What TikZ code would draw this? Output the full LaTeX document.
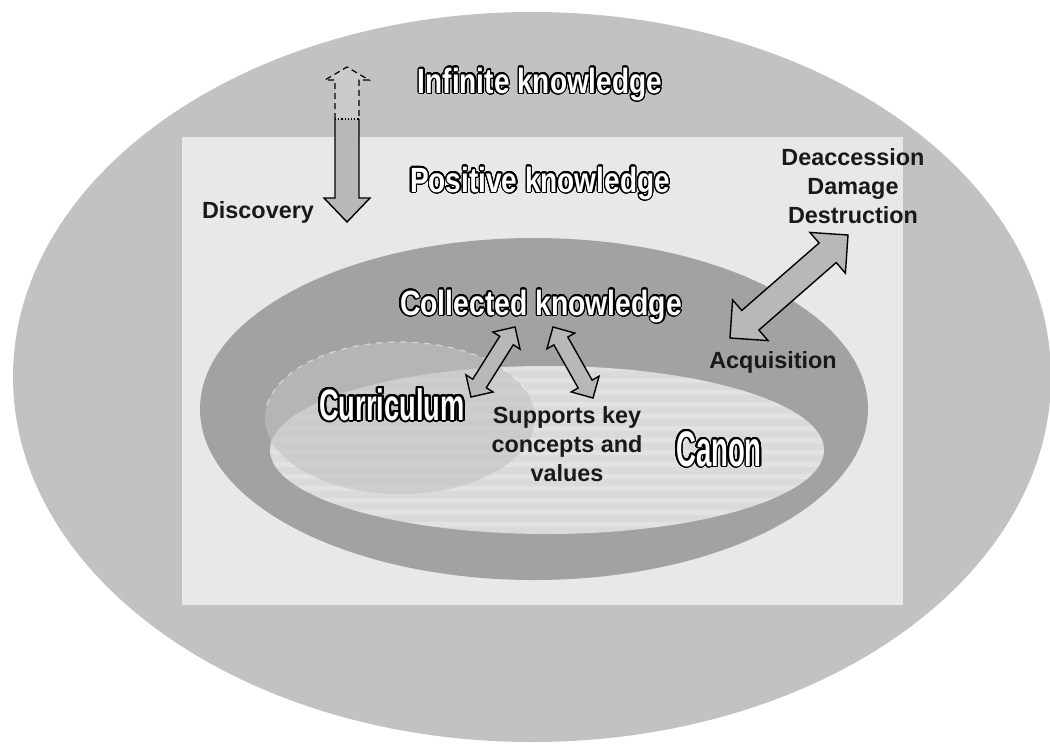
\documentclass[tikz,border=0pt]{standalone}
\usepackage{fontspec}
\setmainfont{Liberation Sans}
\usepackage{contour}
\contournumber{32}
\usetikzlibrary{calc}
\definecolor{outerc}{HTML}{C2C2C2}
\definecolor{rectc}{HTML}{E8E8E8}
\definecolor{midc}{HTML}{A2A2A2}
\definecolor{canonc}{HTML}{DADADA}
\definecolor{arrowc}{HTML}{B8B8B8}
\definecolor{dotc}{HTML}{CBCBCB}
% size, horizontal stretch, contour length, text
\newcommand{\hollowtext}[4]{{\fontsize{#1}{#1}\selectfont\bfseries\contourlength{#3}\textcolor{white}{\contour{black}{\scalebox{#2}[1]{#4}}}}}
% tips #1 #2, shaft half #3, head half #4, head length #5
\newcommand{\dblarrow}[5]{%
  \coordinate (ha) at ($(#1)!#5!(#2)$);
  \coordinate (hb) at ($(#2)!#5!(#1)$);
  \filldraw[blockarrow] (#1) -- ($(ha)!#4!90:(#2)$) -- ($(ha)!#3!90:(#2)$)
    -- ($(hb)!#3!-90:(#1)$) -- ($(hb)!#4!-90:(#1)$) -- (#2)
    -- ($(hb)!#4!90:(#1)$) -- ($(hb)!#3!90:(#1)$)
    -- ($(ha)!#3!-90:(#2)$) -- ($(ha)!#4!-90:(#2)$) -- cycle;}
\tikzset{
  blockarrow/.style={fill=arrowc, draw=black, line width=0.7pt, line join=miter},
  lbl/.style={font=\fontsize{11.7pt}{14.5pt}\selectfont\bfseries, align=center, inner sep=0pt, text=black!90},
  hol/.style={inner sep=0pt, anchor=base}
}
\begin{document}
\begin{tikzpicture}[x=0.5pt,y=-0.5pt]
\useasboundingbox (0,0) rectangle (1050,745);
\fill[white] (0,0) rectangle (1050,745);
% regions
\fill[outerc] (532,377) ellipse [x radius=519, y radius=365];
\fill[rectc] (182,137) rectangle (903,605);
\fill[midc] (534,409) ellipse [x radius=334, y radius=171];
\fill[canonc] (547,450) ellipse [x radius=277, y radius=84];
\begin{scope}
  \clip (547,450) ellipse [x radius=277, y radius=84];
  \foreach \yy in {366,378,...,540} \fill[white,opacity=0.22] (260,\yy) rectangle (830,\yy+5);
\end{scope}
% curriculum region
\fill[outerc, opacity=0.6] (400,418) ellipse [x radius=135, y radius=76];
\draw[white, opacity=0.5, dashed, line width=0.6pt] ([shift={(400,418)}]-170:135 and 76) arc[start angle=-170, end angle=-20, x radius=135, y radius=76];

% discovery arrow
\coordinate (dtop) at (347,67);
\coordinate (dmid) at (347,119);
\coordinate (dtip) at (347,222);
\path[fill=dotc, draw=black, densely dashed, line width=0.6pt]
  (335,119) -- (335,80) -- (325,80) -- (dtop) -- (369,80) -- (359,80) -- (359,119);
\path[fill=arrowc, draw=black, line width=0.7pt, line join=miter]
  (335,119) -- (335,198) -- (324,198) -- (dtip) -- (370,198) -- (359,198) -- (359,119);
\draw[densely dotted, line width=0.6pt] (335,119) -- (359,119);

% double arrows
\coordinate (acqA) at (730,338);
\coordinate (acqB) at (848,235);
\dblarrow{acqA}{acqB}{6.5pt}{13.5pt}{13.5pt}
\coordinate (curA) at (471,397);
\coordinate (curB) at (515,327);
\dblarrow{curA}{curB}{4pt}{8pt}{8pt}
\coordinate (supA) at (553,327);
\coordinate (supB) at (593,398);
\dblarrow{supA}{supB}{4pt}{8pt}{8pt}

% hollow titles
\node[hol] (infinite) at (540,93) {\hollowtext{17.5pt}{0.8}{0.6pt}{Infinite knowledge}};
\node[hol] (positive) at (540,192) {\hollowtext{17.5pt}{0.8}{0.6pt}{Positive knowledge}};
\node[hol] (collected) at (541,315) {\hollowtext{17.5pt}{0.81}{0.6pt}{Collected knowledge}};
\node[hol] (curriculum) at (392,420) {\hollowtext{22pt}{0.62}{1pt}{Curriculum}};
\node[hol] (canon) at (719,466) {\hollowtext{25pt}{0.55}{0.7pt}{Canon}};

% plain labels
\node[lbl, anchor=base] (discovery) at (258,218) {Discovery};
\node[lbl] (deacc) at (853,186) {Deaccession\\Damage\\Destruction};
\node[lbl, anchor=base] (acq) at (773,368) {Acquisition};
\node[lbl] (supports) at (567,444) {Supports key\\concepts and\\values};
\end{tikzpicture}
\end{document}
